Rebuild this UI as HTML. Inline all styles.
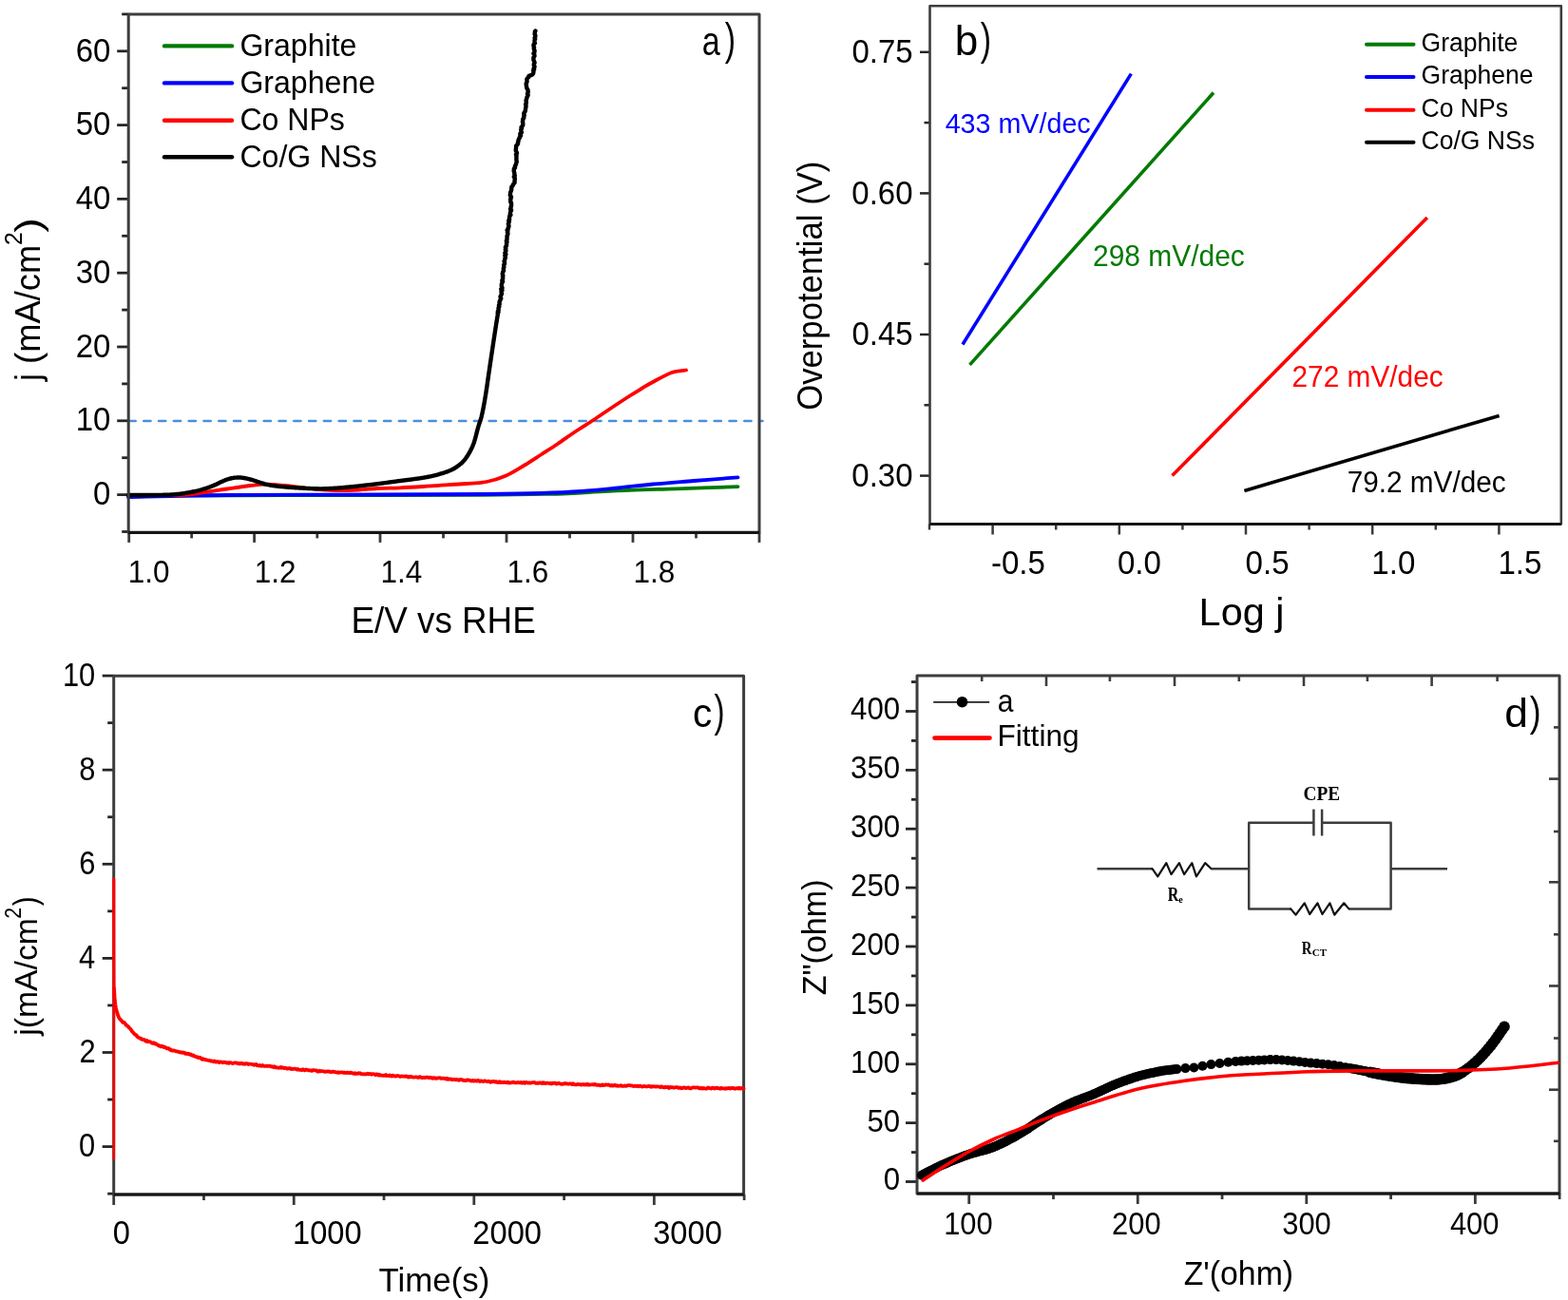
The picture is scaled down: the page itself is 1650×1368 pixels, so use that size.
<!DOCTYPE html>
<html><head><meta charset="utf-8"><title>Figure</title>
<style>html,body{margin:0;padding:0;background:#fff;}svg{display:block;}</style></head>
<body><svg width="1650" height="1368" viewBox="0 0 1650 1368">
<rect width="1650" height="1368" fill="#fff"/>
<line x1="128.20" y1="559.50" x2="135.20" y2="559.50" stroke="#262626" stroke-width="2.8" stroke-linecap="butt" />
<line x1="123.20" y1="520.60" x2="135.20" y2="520.60" stroke="#262626" stroke-width="2.8" stroke-linecap="butt" />
<line x1="128.20" y1="481.70" x2="135.20" y2="481.70" stroke="#262626" stroke-width="2.8" stroke-linecap="butt" />
<line x1="123.20" y1="442.80" x2="135.20" y2="442.80" stroke="#262626" stroke-width="2.8" stroke-linecap="butt" />
<line x1="128.20" y1="403.90" x2="135.20" y2="403.90" stroke="#262626" stroke-width="2.8" stroke-linecap="butt" />
<line x1="123.20" y1="365.00" x2="135.20" y2="365.00" stroke="#262626" stroke-width="2.8" stroke-linecap="butt" />
<line x1="128.20" y1="326.10" x2="135.20" y2="326.10" stroke="#262626" stroke-width="2.8" stroke-linecap="butt" />
<line x1="123.20" y1="287.20" x2="135.20" y2="287.20" stroke="#262626" stroke-width="2.8" stroke-linecap="butt" />
<line x1="128.20" y1="248.30" x2="135.20" y2="248.30" stroke="#262626" stroke-width="2.8" stroke-linecap="butt" />
<line x1="123.20" y1="209.40" x2="135.20" y2="209.40" stroke="#262626" stroke-width="2.8" stroke-linecap="butt" />
<line x1="128.20" y1="170.50" x2="135.20" y2="170.50" stroke="#262626" stroke-width="2.8" stroke-linecap="butt" />
<line x1="123.20" y1="131.60" x2="135.20" y2="131.60" stroke="#262626" stroke-width="2.8" stroke-linecap="butt" />
<line x1="128.20" y1="92.70" x2="135.20" y2="92.70" stroke="#262626" stroke-width="2.8" stroke-linecap="butt" />
<line x1="123.20" y1="53.80" x2="135.20" y2="53.80" stroke="#262626" stroke-width="2.8" stroke-linecap="butt" />
<line x1="128.20" y1="14.90" x2="135.20" y2="14.90" stroke="#262626" stroke-width="2.8" stroke-linecap="butt" />
<line x1="135.70" y1="560.40" x2="135.70" y2="570.90" stroke="#3a3a3a" stroke-width="2.8" stroke-linecap="butt" />
<line x1="201.65" y1="560.40" x2="201.65" y2="566.40" stroke="#3a3a3a" stroke-width="2.8" stroke-linecap="butt" />
<line x1="267.60" y1="560.40" x2="267.60" y2="570.90" stroke="#3a3a3a" stroke-width="2.8" stroke-linecap="butt" />
<line x1="333.80" y1="560.40" x2="333.80" y2="566.40" stroke="#3a3a3a" stroke-width="2.8" stroke-linecap="butt" />
<line x1="400.00" y1="560.40" x2="400.00" y2="570.90" stroke="#3a3a3a" stroke-width="2.8" stroke-linecap="butt" />
<line x1="466.50" y1="560.40" x2="466.50" y2="566.40" stroke="#3a3a3a" stroke-width="2.8" stroke-linecap="butt" />
<line x1="533.00" y1="560.40" x2="533.00" y2="570.90" stroke="#3a3a3a" stroke-width="2.8" stroke-linecap="butt" />
<line x1="599.50" y1="560.40" x2="599.50" y2="566.40" stroke="#3a3a3a" stroke-width="2.8" stroke-linecap="butt" />
<line x1="666.00" y1="560.40" x2="666.00" y2="570.90" stroke="#3a3a3a" stroke-width="2.8" stroke-linecap="butt" />
<line x1="732.50" y1="560.40" x2="732.50" y2="566.40" stroke="#3a3a3a" stroke-width="2.8" stroke-linecap="butt" />
<line x1="799.00" y1="560.40" x2="799.00" y2="570.90" stroke="#3a3a3a" stroke-width="2.8" stroke-linecap="butt" />
<line x1="135.50" y1="443.00" x2="802.50" y2="443.00" stroke="#4a8fdb" stroke-width="2.6" stroke-linecap="round" stroke-dasharray="7.2,8.6"/>
<path d="M135.00,521.60 C162.50,521.53 239.17,521.33 300.00,521.20 C360.83,521.07 453.33,521.03 500.00,520.80 C546.67,520.57 561.33,520.18 580.00,519.80 C598.67,519.42 598.33,519.17 612.00,518.50 C625.67,517.83 645.33,516.50 662.00,515.80 C678.67,515.10 692.92,514.90 712.00,514.30 C731.08,513.70 765.75,512.55 776.50,512.20" fill="none" stroke="#007a00" stroke-width="3.8" stroke-linejoin="round" stroke-linecap="round" />
<path d="M135.00,523.00 C152.33,522.67 194.83,521.42 239.00,521.00 C283.17,520.58 354.50,520.67 400.00,520.50 C445.50,520.33 483.67,520.25 512.00,520.00 C540.33,519.75 553.33,519.50 570.00,519.00 C586.67,518.50 598.67,517.92 612.00,517.00 C625.33,516.08 637.50,514.75 650.00,513.50 C662.50,512.25 673.67,510.75 687.00,509.50 C700.33,508.25 715.08,507.20 730.00,506.00 C744.92,504.80 768.75,502.92 776.50,502.30" fill="none" stroke="#0000ff" stroke-width="3.8" stroke-linejoin="round" stroke-linecap="round" />
<path d="M135.00,521.00 C144.27,521.00 177.30,521.47 190.60,521.00 C203.90,520.53 206.73,519.28 214.80,518.20 C222.87,517.12 230.92,515.70 239.00,514.50 C247.08,513.30 256.47,511.80 263.30,511.00 C270.13,510.20 273.93,509.70 280.00,509.70 C286.07,509.70 292.37,510.32 299.70,511.00 C307.03,511.68 315.95,513.00 324.00,513.80 C332.05,514.60 340.00,515.47 348.00,515.80 C356.00,516.13 363.88,516.10 372.00,515.80 C380.12,515.50 388.53,514.42 396.70,514.00 C404.87,513.58 412.95,513.63 421.00,513.30 C429.05,512.97 438.17,512.42 445.00,512.00 C451.83,511.58 454.50,511.30 462.00,510.80 C469.50,510.30 481.67,509.63 490.00,509.00 C498.33,508.37 505.00,508.37 512.00,507.00 C519.00,505.63 525.33,503.72 532.00,500.80 C538.67,497.88 545.67,493.30 552.00,489.50 C558.33,485.70 564.17,481.75 570.00,478.00 C575.83,474.25 581.17,470.92 587.00,467.00 C592.83,463.08 598.75,458.67 605.00,454.50 C611.25,450.33 618.17,446.17 624.50,442.00 C630.83,437.83 636.75,433.67 643.00,429.50 C649.25,425.33 656.67,420.42 662.00,417.00 C667.33,413.58 670.83,411.50 675.00,409.00 C679.17,406.50 681.67,404.83 687.00,402.00 C692.33,399.17 701.17,394.08 707.00,392.00 C712.83,389.92 719.50,389.92 722.00,389.50" fill="none" stroke="#ff0000" stroke-width="3.8" stroke-linejoin="round" stroke-linecap="round" />
<path d="M135.00,521.00 L135.53,521.00 L136.12,520.99 L136.77,520.99 L137.46,520.99 L138.20,520.99 L138.98,520.99 L139.81,520.99 L140.68,520.99 L141.59,520.99 L142.54,520.99 L143.52,520.99 L144.53,520.99 L145.57,520.99 L146.63,521.00 L147.72,521.00 L148.83,521.00 L149.97,521.00 L151.11,521.00 L152.28,521.00 L153.45,521.00 L154.64,520.99 L155.84,520.99 L157.03,520.99 L158.24,520.98 L159.44,520.98 L160.64,520.97 L161.84,520.96 L163.03,520.96 L164.21,520.94 L165.38,520.93 L166.54,520.92 L167.68,520.90 L168.80,520.89 L169.90,520.87 L170.98,520.85 L172.04,520.82 L173.06,520.80 L174.06,520.77 L175.02,520.74 L175.95,520.71 L176.84,520.68 L177.69,520.64 L178.50,520.60 L179.88,520.52 L181.21,520.44 L182.49,520.36 L183.72,520.26 L184.90,520.16 L186.05,520.06 L187.15,519.95 L188.21,519.84 L189.25,519.72 L190.25,519.60 L191.23,519.47 L192.18,519.34 L193.10,519.21 L194.01,519.07 L194.91,518.93 L195.79,518.78 L196.65,518.63 L197.52,518.48 L198.38,518.32 L199.23,518.16 L200.09,518.00 L200.95,517.84 L201.82,517.67 L202.70,517.50 L203.86,517.27 L204.99,517.04 L206.09,516.80 L207.17,516.55 L208.22,516.31 L209.24,516.05 L210.25,515.79 L211.25,515.52 L212.23,515.25 L213.20,514.97 L214.17,514.68 L215.13,514.38 L216.10,514.08 L217.06,513.76 L218.03,513.44 L219.01,513.10 L220.00,512.76 L221.00,512.40 L221.97,512.04 L222.94,511.66 L223.93,511.25 L224.93,510.82 L225.93,510.37 L226.94,509.91 L227.94,509.44 L228.94,508.97 L229.94,508.49 L230.93,508.02 L231.91,507.55 L232.88,507.10 L233.83,506.65 L234.77,506.23 L235.69,505.83 L236.58,505.45 L237.45,505.10 L238.29,504.78 L239.10,504.50 L240.32,504.11 L241.46,503.78 L242.55,503.49 L243.58,503.25 L244.57,503.05 L245.52,502.88 L246.46,502.75 L247.39,502.65 L248.32,502.58 L249.25,502.53 L250.21,502.51 L251.20,502.50 L252.19,502.52 L253.15,502.56 L254.08,502.64 L255.01,502.74 L255.93,502.87 L256.87,503.03 L257.83,503.22 L258.81,503.43 L259.85,503.66 L260.93,503.92 L262.08,504.20 L263.30,504.50 L264.11,504.71 L264.96,504.95 L265.83,505.21 L266.73,505.48 L267.65,505.78 L268.60,506.08 L269.56,506.40 L270.53,506.73 L271.52,507.06 L272.52,507.39 L273.52,507.72 L274.53,508.05 L275.54,508.37 L276.55,508.68 L277.56,508.98 L278.56,509.27 L279.55,509.53 L280.53,509.78 L281.50,510.00 L282.49,510.21 L283.46,510.41 L284.39,510.59 L285.31,510.75 L286.22,510.91 L287.12,511.05 L288.02,511.19 L288.92,511.31 L289.84,511.43 L290.78,511.54 L291.74,511.65 L292.74,511.76 L293.77,511.86 L294.84,511.97 L295.97,512.07 L297.15,512.18 L298.39,512.29 L299.70,512.40 L300.53,512.47 L301.39,512.54 L302.30,512.61 L303.23,512.69 L304.19,512.76 L305.18,512.83 L306.20,512.90 L307.23,512.98 L308.29,513.05 L309.36,513.12 L310.44,513.19 L311.54,513.26 L312.64,513.33 L313.75,513.40 L314.86,513.46 L315.97,513.53 L317.08,513.59 L318.18,513.65 L319.28,513.71 L320.36,513.77 L321.43,513.83 L322.49,513.88 L323.52,513.93 L324.53,513.98 L325.52,514.02 L326.48,514.06 L327.41,514.10 L328.31,514.14 L329.18,514.17 L330.00,514.20 L331.30,514.24 L332.50,514.28 L333.64,514.30 L334.70,514.32 L335.71,514.34 L336.67,514.35 L337.60,514.35 L338.49,514.35 L339.37,514.34 L340.24,514.32 L341.10,514.30 L341.98,514.27 L342.88,514.24 L343.81,514.20 L344.77,514.16 L345.79,514.11 L346.86,514.06 L348.00,514.00 L348.89,513.95 L349.81,513.90 L350.74,513.84 L351.70,513.78 L352.67,513.71 L353.65,513.65 L354.65,513.57 L355.66,513.50 L356.69,513.42 L357.72,513.33 L358.76,513.25 L359.81,513.16 L360.86,513.07 L361.92,512.98 L362.98,512.89 L364.04,512.79 L365.10,512.70 L366.16,512.60 L367.21,512.50 L368.27,512.40 L369.31,512.30 L370.35,512.20 L371.38,512.10 L372.40,512.00 L373.41,511.90 L374.43,511.80 L375.44,511.69 L376.46,511.58 L377.47,511.48 L378.48,511.37 L379.49,511.25 L380.51,511.14 L381.52,511.03 L382.53,510.91 L383.54,510.79 L384.56,510.67 L385.57,510.56 L386.58,510.44 L387.59,510.31 L388.60,510.19 L389.62,510.07 L390.63,509.95 L391.64,509.82 L392.65,509.70 L393.66,509.57 L394.68,509.45 L395.69,509.32 L396.70,509.20 L397.71,509.07 L398.71,508.95 L399.71,508.82 L400.70,508.70 L401.69,508.57 L402.68,508.45 L403.66,508.32 L404.64,508.19 L405.63,508.06 L406.61,507.94 L407.60,507.81 L408.59,507.67 L409.58,507.54 L410.58,507.41 L411.58,507.28 L412.59,507.14 L413.61,507.00 L414.63,506.87 L415.66,506.73 L416.71,506.58 L417.76,506.44 L418.83,506.30 L419.91,506.15 L421.00,506.00 L421.95,505.87 L422.92,505.74 L423.90,505.62 L424.90,505.49 L425.91,505.36 L426.94,505.24 L427.97,505.11 L429.01,504.98 L430.06,504.85 L431.11,504.72 L432.17,504.59 L433.24,504.46 L434.30,504.32 L435.36,504.19 L436.43,504.05 L437.49,503.91 L438.54,503.77 L439.59,503.62 L440.64,503.48 L441.67,503.33 L442.70,503.17 L443.71,503.02 L444.72,502.86 L445.71,502.69 L446.68,502.53 L447.64,502.36 L448.58,502.18 L449.50,502.00 L450.61,501.78 L451.71,501.55 L452.80,501.31 L453.89,501.07 L454.98,500.82 L456.05,500.57 L457.11,500.32 L458.16,500.06 L459.21,499.79 L460.23,499.53 L461.25,499.26 L462.25,498.98 L463.23,498.70 L464.20,498.42 L465.15,498.14 L466.08,497.85 L466.99,497.57 L467.89,497.28 L468.76,496.98 L469.60,496.69 L470.43,496.39 L471.23,496.10 L472.00,495.80 L473.21,495.31 L474.35,494.81 L475.43,494.30 L476.45,493.79 L477.41,493.27 L478.32,492.74 L479.19,492.21 L480.02,491.67 L480.81,491.13 L481.58,490.58 L482.33,490.02 L483.06,489.45 L483.78,488.88 L484.50,488.30 L485.37,487.56 L486.18,486.83 L486.94,486.09 L487.65,485.35 L488.31,484.60 L488.95,483.82 L489.57,483.03 L490.18,482.20 L490.78,481.34 L491.38,480.44 L492.00,479.50 L492.53,478.67 L493.05,477.83 L493.56,476.97 L494.07,476.09 L494.57,475.19 L495.07,474.27 L495.55,473.32 L496.03,472.34 L496.50,471.34 L496.97,470.30 L497.42,469.24 L497.86,468.14 L498.30,467.00 L498.61,466.14 L498.91,465.25 L499.21,464.31 L499.50,463.35 L499.79,462.36 L500.08,461.35 L500.36,460.33 L500.63,459.29 L500.91,458.25 L501.17,457.21 L501.44,456.17 L501.70,455.15 L501.96,454.14 L502.21,453.15 L502.46,452.19 L502.71,451.25 L502.96,450.36 L503.20,449.50 L503.53,448.40 L503.85,447.38 L504.15,446.43 L504.45,445.53 L504.74,444.67 L505.03,443.83 L505.31,442.98 L505.59,442.13 L505.87,441.24 L506.15,440.29 L506.43,439.29 L506.71,438.19 L507.00,437.00 L507.19,436.18 L507.38,435.33 L507.57,434.45 L507.76,433.56 L507.95,432.64 L508.14,431.71 L508.33,430.75 L508.52,429.78 L508.72,428.79 L508.91,427.78 L509.10,426.76 L509.29,425.72 L509.48,424.67 L509.67,423.60 L509.86,422.53 L510.05,421.44 L510.24,420.34 L510.42,419.24 L510.61,418.12 L510.80,417.00 L510.95,416.09 L511.10,415.17 L511.25,414.23 L511.40,413.28 L511.55,412.32 L511.69,411.35 L511.84,410.36 L511.99,409.37 L512.14,408.37 L512.29,407.36 L512.43,406.34 L512.58,405.32 L512.73,404.30 L512.88,403.27 L513.02,402.24 L513.17,401.21 L513.32,400.17 L513.47,399.14 L513.61,398.11 L513.76,397.08 L513.91,396.05 L514.06,395.03 L514.20,394.01 L514.35,393.00 L514.50,392.00 L514.65,391.00 L514.80,390.00 L514.94,389.00 L515.09,388.00 L515.24,387.00 L515.39,386.00 L515.53,385.00 L515.68,384.00 L515.83,383.00 L515.98,382.00 L516.12,381.00 L516.27,380.00 L516.42,379.00 L516.57,378.00 L516.71,377.00 L516.86,376.00 L517.01,375.00 L517.16,374.00 L517.31,373.00 L517.45,372.00 L517.60,371.00 L517.75,370.00 L517.90,369.00 L518.05,368.00 L518.20,367.00 L518.35,365.99 L518.51,364.96 L518.66,363.92 L518.82,362.86 L518.98,361.79 L519.14,360.72 L519.31,359.63 L519.47,358.55 L519.64,357.46 L519.80,356.38 L519.96,355.30 L520.13,354.22 L520.29,353.16 L520.45,352.10 L520.60,351.06 L520.76,350.04 L520.91,349.04 L521.06,348.06 L521.21,347.10 L521.35,346.17 L521.49,345.27 L521.63,344.40 L521.76,343.56 L521.88,342.76 L522.00,342.00 L522.24,340.51 L522.46,339.11 L522.67,337.80 L522.87,336.59 L523.06,335.47 L523.24,334.44 L523.40,333.49 L523.55,332.63 L523.68,331.85 L523.80,331.16 L523.91,330.54 L523.75,330.00 L523.63,329.31 L524.49,328.48 L523.85,327.54 L524.70,326.49 L524.68,325.35 L524.48,324.12 L525.35,322.81 L524.94,321.44 L525.75,320.02 L525.49,318.56 L525.76,317.06 L526.47,315.55 L527.25,314.02 L526.47,312.50 L526.75,311.42 L527.45,310.29 L528.03,309.13 L527.64,307.94 L527.52,306.72 L528.45,305.47 L527.28,304.21 L528.54,302.92 L527.86,301.62 L527.78,300.31 L527.87,299.00 L528.26,297.68 L529.09,296.36 L528.32,295.05 L529.00,293.75 L529.20,292.46 L528.95,291.19 L529.32,289.93 L528.76,288.70 L528.88,287.50 L529.23,286.19 L530.03,284.90 L529.82,283.63 L529.80,282.38 L530.31,281.14 L530.27,279.91 L530.19,278.68 L531.02,277.47 L531.03,276.25 L530.53,275.03 L531.13,273.82 L531.20,272.59 L531.83,271.36 L531.77,270.12 L531.29,268.87 L532.39,267.60 L531.33,266.31 L531.89,265.00 L532.48,263.80 L531.76,262.57 L532.35,261.31 L531.85,260.04 L532.85,258.75 L533.10,257.45 L532.96,256.14 L533.50,254.82 L532.84,253.50 L533.49,252.19 L533.47,250.88 L533.58,249.58 L533.53,248.29 L534.19,247.03 L534.46,245.78 L533.93,244.56 L534.33,243.37 L533.61,242.21 L534.65,241.08 L534.71,240.00 L535.40,238.52 L535.38,237.13 L534.86,235.80 L535.25,234.53 L535.89,233.30 L535.24,232.11 L536.10,230.94 L535.93,229.78 L536.09,228.63 L536.23,227.46 L537.42,226.28 L536.71,225.07 L537.02,223.81 L537.35,222.50 L538.10,221.30 L537.03,220.07 L537.56,218.80 L537.69,217.50 L538.12,216.18 L537.99,214.85 L538.00,213.52 L537.13,212.19 L537.27,210.87 L537.14,209.56 L537.84,208.28 L537.93,207.03 L536.81,205.82 L536.88,204.66 L537.02,203.55 L537.13,202.50 L537.74,200.94 L538.24,199.48 L538.22,198.12 L538.34,196.84 L539.43,195.62 L539.86,194.46 L540.61,193.33 L541.57,192.22 L541.54,191.12 L541.52,190.00 L541.78,188.63 L541.81,187.32 L540.79,186.07 L541.76,184.84 L541.38,183.64 L541.34,182.44 L541.15,181.23 L540.65,180.00 L540.90,178.78 L540.86,177.62 L542.07,176.47 L541.79,175.31 L542.31,174.12 L542.98,172.85 L543.29,171.49 L543.78,170.00 L543.44,168.91 L543.36,167.73 L543.51,166.48 L543.33,165.19 L543.57,163.85 L542.95,162.50 L544.00,161.15 L543.51,159.81 L542.77,158.52 L542.86,157.27 L543.00,156.09 L543.11,155.00 L543.04,153.51 L544.44,152.15 L545.13,150.88 L544.93,149.69 L545.52,148.53 L545.51,147.38 L546.03,146.22 L546.78,145.00 L547.00,143.80 L548.06,142.68 L547.36,141.58 L547.38,140.47 L548.88,139.30 L548.51,138.03 L548.22,136.61 L549.06,135.00 L548.52,133.98 L549.42,132.89 L550.25,131.75 L550.29,130.55 L550.27,129.30 L549.88,128.02 L550.25,126.72 L550.20,125.39 L551.27,124.06 L551.16,122.72 L551.73,121.39 L551.32,120.07 L551.40,118.77 L552.44,117.50 L552.90,116.24 L552.96,114.98 L553.14,113.70 L553.42,112.43 L553.57,111.15 L553.11,109.87 L553.77,108.59 L553.79,107.33 L553.56,106.07 L553.77,104.82 L554.31,103.58 L554.44,102.37 L555.18,101.17 L555.64,100.00 L554.97,98.63 L555.63,97.24 L555.62,95.84 L555.45,94.44 L554.47,93.07 L554.11,91.72 L553.95,90.41 L553.76,89.17 L553.65,87.99 L554.16,86.89 L554.52,85.89 L554.48,85.00 L554.40,83.05 L555.37,81.88 L556.47,81.02 L556.42,80.00 L558.09,79.32 L559.46,78.96 L560.31,78.44 L561.18,77.28 L561.47,75.00 L561.16,74.19 L562.11,73.28 L561.55,72.26 L562.26,71.16 L562.55,69.98 L561.77,68.73 L561.80,67.43 L562.58,66.08 L562.27,64.69 L561.49,63.28 L561.42,61.85 L561.45,60.42 L562.49,58.99 L562.35,57.58 L561.42,56.19 L562.37,54.84 L562.59,53.53 L562.16,52.29 L561.75,51.10 L562.07,50.00 L561.55,48.48 L561.48,46.95 L562.91,45.44 L562.56,43.94 L562.50,42.48 L563.18,41.06 L562.59,39.69 L563.31,38.38 L563.36,37.15 L562.60,36.01 L562.75,34.96 L562.89,34.02 L562.88,33.19 L563.42,32.50" fill="none" stroke="#000" stroke-width="4.4" stroke-linejoin="round" stroke-linecap="round" />
<rect x="135.2" y="15.0" width="663.8" height="545.4" fill="none" stroke="#3d3d3d" stroke-width="3.0" stroke-linejoin="round"/>
<line x1="135.20" y1="560.40" x2="799.00" y2="560.40" stroke="#161616" stroke-width="3.2" stroke-linecap="butt" />
<line x1="173.00" y1="48.40" x2="244.00" y2="48.40" stroke="#007a00" stroke-width="4.4" stroke-linecap="round" />
<line x1="173.00" y1="87.40" x2="244.00" y2="87.40" stroke="#0000ff" stroke-width="4.4" stroke-linecap="round" />
<line x1="173.00" y1="126.80" x2="244.00" y2="126.80" stroke="#ff0000" stroke-width="4.4" stroke-linecap="round" />
<line x1="173.00" y1="165.30" x2="244.00" y2="165.30" stroke="#000" stroke-width="4.4" stroke-linecap="round" />
<text transform="translate(252.40,59.20) scale(0.9780,1)" font-family='"Liberation Sans", Arial, sans-serif' font-weight="normal" font-size="32.80" fill="#000">Graphite</text>
<text transform="translate(252.40,98.10) scale(0.9780,1)" font-family='"Liberation Sans", Arial, sans-serif' font-weight="normal" font-size="32.80" fill="#000">Graphene</text>
<text transform="translate(252.40,137.00) scale(0.9780,1)" font-family='"Liberation Sans", Arial, sans-serif' font-weight="normal" font-size="32.80" fill="#000">Co NPs</text>
<text transform="translate(252.40,175.90) scale(0.9780,1)" font-family='"Liberation Sans", Arial, sans-serif' font-weight="normal" font-size="32.80" fill="#000">Co/G NSs</text>
<text transform="translate(79.65,64.60) scale(0.9578,1)" font-family='"Liberation Sans", Arial, sans-serif' font-weight="normal" font-size="34.43" fill="#000">60</text>
<text transform="translate(97.95,531.10) scale(0.9578,1)" font-family='"Liberation Sans", Arial, sans-serif' font-weight="normal" font-size="34.43" fill="#000">0</text>
<text transform="translate(79.65,453.30) scale(0.9578,1)" font-family='"Liberation Sans", Arial, sans-serif' font-weight="normal" font-size="34.43" fill="#000">10</text>
<text transform="translate(79.65,375.50) scale(0.9578,1)" font-family='"Liberation Sans", Arial, sans-serif' font-weight="normal" font-size="34.43" fill="#000">20</text>
<text transform="translate(79.65,297.70) scale(0.9578,1)" font-family='"Liberation Sans", Arial, sans-serif' font-weight="normal" font-size="34.43" fill="#000">30</text>
<text transform="translate(79.65,219.90) scale(0.9578,1)" font-family='"Liberation Sans", Arial, sans-serif' font-weight="normal" font-size="34.43" fill="#000">40</text>
<text transform="translate(79.65,142.10) scale(0.9578,1)" font-family='"Liberation Sans", Arial, sans-serif' font-weight="normal" font-size="34.43" fill="#000">50</text>
<text transform="translate(134.64,612.70) scale(0.9324,1)" font-family='"Liberation Sans", Arial, sans-serif' font-weight="normal" font-size="33.77" fill="#000">1.0</text>
<text transform="translate(267.72,612.70) scale(0.9324,1)" font-family='"Liberation Sans", Arial, sans-serif' font-weight="normal" font-size="33.77" fill="#000">1.2</text>
<text transform="translate(400.41,612.70) scale(0.9324,1)" font-family='"Liberation Sans", Arial, sans-serif' font-weight="normal" font-size="33.77" fill="#000">1.4</text>
<text transform="translate(533.57,612.70) scale(0.9324,1)" font-family='"Liberation Sans", Arial, sans-serif' font-weight="normal" font-size="33.77" fill="#000">1.6</text>
<text transform="translate(666.57,612.70) scale(0.9324,1)" font-family='"Liberation Sans", Arial, sans-serif' font-weight="normal" font-size="33.77" fill="#000">1.8</text>
<text transform="translate(369.45,665.60) scale(0.9444,1)" font-family='"Liberation Sans", Arial, sans-serif' font-weight="normal" font-size="38.99" fill="#000">E/V vs RHE</text>
<text transform="translate(42.40,401.09) rotate(-90) scale(0.9619,1)" font-family='"Liberation Sans", Arial, sans-serif' font-weight="normal" font-size="37.78" fill="#000">j (mA/cm</text>
<text transform="translate(23.40,258.04) rotate(-90) scale(0.9878,1)" font-family='"Liberation Sans", Arial, sans-serif' font-weight="normal" font-size="25.14" fill="#000">2</text>
<text transform="translate(43.00,244.63) rotate(-90) scale(1.1945,1)" font-family='"Liberation Sans", Arial, sans-serif' font-weight="normal" font-size="39.17" fill="#000">)</text>
<text transform="translate(738.63,57.70) scale(0.8130,1)" font-family='"Liberation Sans", Arial, sans-serif' font-weight="normal" font-size="42.04" fill="#000">a</text>
<text transform="translate(762.83,56.83) scale(0.7454,1)" font-family='"Liberation Sans", Arial, sans-serif' font-weight="normal" font-size="45.56" fill="#000">)</text>
<line x1="968.00" y1="500.60" x2="978.50" y2="500.60" stroke="#262626" stroke-width="2.5" stroke-linecap="butt" />
<line x1="972.50" y1="426.30" x2="978.50" y2="426.30" stroke="#262626" stroke-width="2.5" stroke-linecap="butt" />
<line x1="968.00" y1="352.00" x2="978.50" y2="352.00" stroke="#262626" stroke-width="2.5" stroke-linecap="butt" />
<line x1="972.50" y1="277.70" x2="978.50" y2="277.70" stroke="#262626" stroke-width="2.5" stroke-linecap="butt" />
<line x1="968.00" y1="203.40" x2="978.50" y2="203.40" stroke="#262626" stroke-width="2.5" stroke-linecap="butt" />
<line x1="972.50" y1="129.10" x2="978.50" y2="129.10" stroke="#262626" stroke-width="2.5" stroke-linecap="butt" />
<line x1="968.00" y1="54.80" x2="978.50" y2="54.80" stroke="#262626" stroke-width="2.5" stroke-linecap="butt" />
<line x1="978.00" y1="551.50" x2="978.00" y2="557.50" stroke="#3a3a3a" stroke-width="2.5" stroke-linecap="butt" />
<line x1="1044.60" y1="551.50" x2="1044.60" y2="562.50" stroke="#3a3a3a" stroke-width="2.5" stroke-linecap="butt" />
<line x1="1111.20" y1="551.50" x2="1111.20" y2="557.50" stroke="#3a3a3a" stroke-width="2.5" stroke-linecap="butt" />
<line x1="1177.80" y1="551.50" x2="1177.80" y2="562.50" stroke="#3a3a3a" stroke-width="2.5" stroke-linecap="butt" />
<line x1="1244.40" y1="551.50" x2="1244.40" y2="557.50" stroke="#3a3a3a" stroke-width="2.5" stroke-linecap="butt" />
<line x1="1311.00" y1="551.50" x2="1311.00" y2="562.50" stroke="#3a3a3a" stroke-width="2.5" stroke-linecap="butt" />
<line x1="1377.60" y1="551.50" x2="1377.60" y2="557.50" stroke="#3a3a3a" stroke-width="2.5" stroke-linecap="butt" />
<line x1="1444.20" y1="551.50" x2="1444.20" y2="562.50" stroke="#3a3a3a" stroke-width="2.5" stroke-linecap="butt" />
<line x1="1510.80" y1="551.50" x2="1510.80" y2="557.50" stroke="#3a3a3a" stroke-width="2.5" stroke-linecap="butt" />
<line x1="1577.40" y1="551.50" x2="1577.40" y2="562.50" stroke="#3a3a3a" stroke-width="2.5" stroke-linecap="butt" />
<line x1="1013.00" y1="362.50" x2="1190.30" y2="77.60" stroke="#0000ff" stroke-width="3.6" stroke-linecap="butt" />
<line x1="1020.50" y1="383.90" x2="1277.00" y2="97.50" stroke="#007a00" stroke-width="3.6" stroke-linecap="butt" />
<line x1="1233.50" y1="500.60" x2="1501.80" y2="229.00" stroke="#ff0000" stroke-width="3.6" stroke-linecap="butt" />
<line x1="1309.40" y1="516.40" x2="1577.60" y2="437.40" stroke="#000" stroke-width="3.6" stroke-linecap="butt" />
<rect x="978.5" y="6.2" width="664.3" height="545.3" fill="none" stroke="#3d3d3d" stroke-width="2.6" stroke-linejoin="round"/>
<line x1="978.50" y1="551.50" x2="1642.80" y2="551.50" stroke="#161616" stroke-width="2.8" stroke-linecap="butt" />
<line x1="1438.00" y1="46.80" x2="1487.50" y2="46.80" stroke="#007a00" stroke-width="4.0" stroke-linecap="round" />
<line x1="1438.00" y1="81.00" x2="1487.50" y2="81.00" stroke="#0000ff" stroke-width="4.0" stroke-linecap="round" />
<line x1="1438.00" y1="115.70" x2="1487.50" y2="115.70" stroke="#ff0000" stroke-width="4.0" stroke-linecap="round" />
<line x1="1438.00" y1="149.80" x2="1487.50" y2="149.80" stroke="#000" stroke-width="4.0" stroke-linecap="round" />
<text transform="translate(1495.57,53.60) scale(0.9650,1)" font-family='"Liberation Sans", Arial, sans-serif' font-weight="normal" font-size="27.50" fill="#000">Graphite</text>
<text transform="translate(1495.57,88.10) scale(0.9650,1)" font-family='"Liberation Sans", Arial, sans-serif' font-weight="normal" font-size="27.50" fill="#000">Graphene</text>
<text transform="translate(1495.57,122.70) scale(0.9650,1)" font-family='"Liberation Sans", Arial, sans-serif' font-weight="normal" font-size="27.50" fill="#000">Co NPs</text>
<text transform="translate(1495.57,157.20) scale(0.9650,1)" font-family='"Liberation Sans", Arial, sans-serif' font-weight="normal" font-size="27.50" fill="#000">Co/G NSs</text>
<text transform="translate(994.63,139.70) scale(0.9565,1)" font-family='"Liberation Sans", Arial, sans-serif' font-weight="normal" font-size="30.00" fill="#0000ff">433 mV/dec</text>
<text transform="translate(1150.00,279.70) scale(0.9621,1)" font-family='"Liberation Sans", Arial, sans-serif' font-weight="normal" font-size="31.14" fill="#007a00">298 mV/dec</text>
<text transform="translate(1359.51,407.30) scale(0.9280,1)" font-family='"Liberation Sans", Arial, sans-serif' font-weight="normal" font-size="32.14" fill="#ff0000">272 mV/dec</text>
<text transform="translate(1417.71,518.20) scale(0.9636,1)" font-family='"Liberation Sans", Arial, sans-serif' font-weight="normal" font-size="30.87" fill="#000">79.2 mV/dec</text>
<text transform="translate(896.48,66.00) scale(0.9538,1)" font-family='"Liberation Sans", Arial, sans-serif' font-weight="normal" font-size="34.57" fill="#000">0.75</text>
<text transform="translate(896.32,214.70) scale(0.9538,1)" font-family='"Liberation Sans", Arial, sans-serif' font-weight="normal" font-size="34.57" fill="#000">0.60</text>
<text transform="translate(896.48,363.30) scale(0.9538,1)" font-family='"Liberation Sans", Arial, sans-serif' font-weight="normal" font-size="34.57" fill="#000">0.45</text>
<text transform="translate(896.32,511.90) scale(0.9538,1)" font-family='"Liberation Sans", Arial, sans-serif' font-weight="normal" font-size="34.57" fill="#000">0.30</text>
<text transform="translate(1310.58,604.00) scale(0.9601,1)" font-family='"Liberation Sans", Arial, sans-serif' font-weight="normal" font-size="34.43" fill="#000">0.5</text>
<text transform="translate(1042.89,604.00) scale(0.9601,1)" font-family='"Liberation Sans", Arial, sans-serif' font-weight="normal" font-size="34.43" fill="#000">-0.5</text>
<text transform="translate(1175.95,604.00) scale(0.9601,1)" font-family='"Liberation Sans", Arial, sans-serif' font-weight="normal" font-size="34.43" fill="#000">0.0</text>
<text transform="translate(1443.37,604.00) scale(0.9601,1)" font-family='"Liberation Sans", Arial, sans-serif' font-weight="normal" font-size="34.43" fill="#000">1.0</text>
<text transform="translate(1576.45,604.00) scale(0.9601,1)" font-family='"Liberation Sans", Arial, sans-serif' font-weight="normal" font-size="34.43" fill="#000">1.5</text>
<text transform="translate(1261.59,657.90) scale(1.0067,1)" font-family='"Liberation Sans", Arial, sans-serif' font-weight="normal" font-size="41.16" fill="#000">Log j</text>
<text transform="translate(865.00,431.86) rotate(-90) scale(0.9345,1)" font-family='"Liberation Sans", Arial, sans-serif' font-weight="normal" font-size="37.14" fill="#000">Overpotential (V)</text>
<text transform="translate(1004.84,57.80) scale(1.0031,1)" font-family='"Liberation Sans", Arial, sans-serif' font-weight="normal" font-size="43.86" fill="#000">b</text>
<text transform="translate(1031.63,56.75) scale(0.7472,1)" font-family='"Liberation Sans", Arial, sans-serif' font-weight="normal" font-size="45.45" fill="#000">)</text>
<line x1="113.20" y1="1256.15" x2="119.70" y2="1256.15" stroke="#262626" stroke-width="2.8" stroke-linecap="butt" />
<line x1="107.70" y1="1206.60" x2="119.70" y2="1206.60" stroke="#262626" stroke-width="2.8" stroke-linecap="butt" />
<line x1="113.20" y1="1157.05" x2="119.70" y2="1157.05" stroke="#262626" stroke-width="2.8" stroke-linecap="butt" />
<line x1="107.70" y1="1107.50" x2="119.70" y2="1107.50" stroke="#262626" stroke-width="2.8" stroke-linecap="butt" />
<line x1="113.20" y1="1057.95" x2="119.70" y2="1057.95" stroke="#262626" stroke-width="2.8" stroke-linecap="butt" />
<line x1="107.70" y1="1008.40" x2="119.70" y2="1008.40" stroke="#262626" stroke-width="2.8" stroke-linecap="butt" />
<line x1="113.20" y1="958.85" x2="119.70" y2="958.85" stroke="#262626" stroke-width="2.8" stroke-linecap="butt" />
<line x1="107.70" y1="909.30" x2="119.70" y2="909.30" stroke="#262626" stroke-width="2.8" stroke-linecap="butt" />
<line x1="113.20" y1="859.75" x2="119.70" y2="859.75" stroke="#262626" stroke-width="2.8" stroke-linecap="butt" />
<line x1="107.70" y1="810.20" x2="119.70" y2="810.20" stroke="#262626" stroke-width="2.8" stroke-linecap="butt" />
<line x1="113.20" y1="760.65" x2="119.70" y2="760.65" stroke="#262626" stroke-width="2.8" stroke-linecap="butt" />
<line x1="107.70" y1="711.10" x2="119.70" y2="711.10" stroke="#262626" stroke-width="2.8" stroke-linecap="butt" />
<line x1="119.70" y1="1257.00" x2="119.70" y2="1268.00" stroke="#3a3a3a" stroke-width="2.8" stroke-linecap="butt" />
<line x1="214.47" y1="1257.00" x2="214.47" y2="1263.00" stroke="#3a3a3a" stroke-width="2.8" stroke-linecap="butt" />
<line x1="309.25" y1="1257.00" x2="309.25" y2="1268.00" stroke="#3a3a3a" stroke-width="2.8" stroke-linecap="butt" />
<line x1="404.02" y1="1257.00" x2="404.02" y2="1263.00" stroke="#3a3a3a" stroke-width="2.8" stroke-linecap="butt" />
<line x1="498.80" y1="1257.00" x2="498.80" y2="1268.00" stroke="#3a3a3a" stroke-width="2.8" stroke-linecap="butt" />
<line x1="593.58" y1="1257.00" x2="593.58" y2="1263.00" stroke="#3a3a3a" stroke-width="2.8" stroke-linecap="butt" />
<line x1="688.35" y1="1257.00" x2="688.35" y2="1268.00" stroke="#3a3a3a" stroke-width="2.8" stroke-linecap="butt" />
<line x1="783.12" y1="1257.00" x2="783.12" y2="1263.00" stroke="#3a3a3a" stroke-width="2.8" stroke-linecap="butt" />
<rect x="119.7" y="711.2" width="662.9" height="545.8" fill="none" stroke="#3d3d3d" stroke-width="3" stroke-linejoin="round"/>
<line x1="119.70" y1="1257.00" x2="782.60" y2="1257.00" stroke="#161616" stroke-width="3.2" stroke-linecap="butt" />
<line x1="119.80" y1="1220.60" x2="119.80" y2="924.70" stroke="#ff0000" stroke-width="2.6" stroke-linecap="butt" />
<path d="M119.80,924.70 L119.90,1000.00 L120.10,1040.40" fill="none" stroke="#ff0000" stroke-width="2.8" stroke-linejoin="round" stroke-linecap="round" />
<path d="M120.00,1040.09 L120.05,1041.04 L120.09,1041.54 L120.14,1042.64 L120.20,1043.58 L120.25,1043.91 L120.32,1044.91 L120.39,1047.03 L120.46,1047.50 L120.54,1048.67 L120.63,1050.80 L120.73,1051.38 L120.83,1053.03 L120.94,1053.77 L121.07,1055.11 L121.20,1055.61 L121.34,1057.22 L121.50,1058.44 L121.71,1059.19 L121.93,1060.58 L122.15,1061.60 L122.38,1061.95 L122.63,1063.83 L122.89,1064.65 L123.18,1065.29 L123.48,1065.94 L123.82,1067.88 L124.18,1068.33 L124.58,1069.53 L125.02,1070.60 L125.50,1071.26 L126.06,1072.39 L126.67,1072.57 L127.32,1073.82 L128.01,1074.12 L128.73,1075.40 L129.49,1076.02 L130.27,1075.76 L131.08,1076.49 L131.91,1077.29 L132.76,1078.93 L133.62,1079.08 L134.50,1080.15 L135.13,1080.40 L135.76,1081.32 L136.40,1081.87 L137.05,1082.55 L137.71,1083.58 L138.38,1084.34 L139.06,1085.49 L139.75,1085.99 L140.46,1087.05 L141.18,1087.73 L141.92,1088.64 L142.67,1088.99 L143.44,1089.09 L144.22,1090.61 L145.03,1091.38 L145.85,1091.92 L146.70,1092.08 L147.52,1092.75 L148.37,1092.62 L149.24,1093.80 L150.14,1093.90 L151.05,1093.95 L151.98,1094.05 L152.93,1095.36 L153.88,1095.86 L154.85,1095.11 L155.82,1096.28 L156.80,1096.13 L157.79,1096.13 L158.77,1096.61 L159.75,1097.49 L160.72,1097.93 L161.69,1097.27 L162.65,1098.29 L163.60,1097.95 L164.54,1099.12 L165.48,1099.03 L166.43,1100.06 L167.37,1100.55 L168.31,1100.36 L169.26,1101.32 L170.20,1100.87 L171.15,1100.97 L172.09,1101.97 L173.04,1101.66 L173.98,1102.22 L174.93,1102.83 L175.87,1103.42 L176.82,1103.22 L177.77,1103.42 L178.71,1104.73 L179.66,1104.38 L180.60,1105.45 L181.59,1105.67 L182.55,1105.32 L183.49,1105.67 L184.42,1105.97 L185.34,1106.34 L186.26,1106.49 L187.18,1106.64 L188.11,1106.91 L189.05,1107.50 L190.00,1107.18 L190.98,1107.30 L191.98,1107.86 L193.02,1107.52 L194.10,1107.85 L195.22,1108.94 L196.38,1108.69 L197.60,1109.06 L198.42,1108.65 L199.24,1109.39 L200.08,1109.85 L200.92,1109.46 L201.77,1110.46 L202.63,1110.79 L203.50,1110.41 L204.38,1111.41 L205.27,1111.54 L206.17,1112.13 L207.09,1112.07 L208.03,1112.83 L208.97,1113.20 L209.94,1112.68 L210.92,1113.06 L211.92,1114.13 L212.93,1114.80 L213.97,1114.26 L215.02,1114.82 L216.09,1115.28 L217.19,1115.24 L218.30,1115.57 L219.44,1115.78 L220.60,1116.09 L221.79,1116.60 L223.00,1116.46 L223.85,1116.69 L224.72,1117.30 L225.61,1116.53 L226.52,1117.30 L227.45,1117.61 L228.40,1117.21 L229.37,1117.20 L230.35,1118.00 L231.34,1117.41 L232.35,1117.44 L233.37,1117.83 L234.40,1118.22 L235.44,1117.58 L236.49,1117.92 L237.55,1118.01 L238.61,1118.68 L239.68,1118.27 L240.75,1118.84 L241.83,1118.08 L242.90,1118.34 L243.98,1118.78 L245.05,1119.12 L246.12,1118.66 L247.19,1118.44 L248.26,1118.38 L249.32,1118.93 L250.37,1118.58 L251.42,1119.38 L252.46,1119.48 L253.49,1118.75 L254.50,1118.93 L255.50,1119.63 L256.49,1119.50 L257.47,1119.76 L258.43,1119.28 L259.37,1119.10 L260.30,1119.37 L261.20,1120.05 L262.36,1119.53 L263.48,1119.73 L264.57,1119.93 L265.64,1120.04 L266.68,1120.13 L267.70,1120.86 L268.70,1120.05 L269.68,1119.97 L270.65,1121.21 L271.61,1121.24 L272.56,1121.48 L273.50,1120.93 L274.44,1121.66 L275.38,1121.74 L276.31,1121.01 L277.25,1121.75 L278.20,1121.97 L279.16,1121.88 L280.13,1121.82 L281.11,1121.66 L282.11,1121.84 L283.12,1121.82 L284.16,1121.75 L285.23,1122.49 L286.32,1122.25 L287.44,1123.00 L288.59,1122.20 L289.78,1123.36 L291.00,1123.23 L291.87,1123.60 L292.74,1123.65 L293.64,1123.75 L294.54,1123.45 L295.46,1122.87 L296.39,1123.84 L297.32,1123.25 L298.27,1123.50 L299.23,1124.03 L300.20,1123.97 L301.18,1123.93 L302.17,1124.66 L303.16,1124.37 L304.17,1124.15 L305.18,1124.14 L306.19,1124.97 L307.22,1124.61 L308.24,1125.08 L309.28,1124.67 L310.31,1124.58 L311.36,1125.09 L312.40,1125.53 L313.45,1124.86 L314.50,1125.70 L315.55,1125.96 L316.61,1125.92 L317.67,1126.04 L318.72,1125.16 L319.78,1126.00 L320.84,1126.38 L321.89,1125.50 L322.94,1125.86 L324.00,1125.95 L325.05,1126.35 L326.09,1126.32 L327.14,1126.47 L328.18,1126.92 L329.21,1126.08 L330.24,1126.22 L331.27,1126.39 L332.29,1126.47 L333.30,1126.48 L334.31,1127.65 L335.32,1127.58 L336.33,1126.73 L337.34,1127.30 L338.35,1127.14 L339.36,1127.21 L340.37,1127.32 L341.38,1127.74 L342.40,1127.73 L343.41,1127.52 L344.42,1127.38 L345.43,1127.61 L346.44,1127.42 L347.46,1128.00 L348.47,1128.25 L349.48,1127.90 L350.49,1127.60 L351.51,1127.77 L352.52,1128.06 L353.53,1128.39 L354.54,1128.66 L355.56,1128.23 L356.57,1128.79 L357.58,1128.63 L358.60,1128.45 L359.61,1128.43 L360.62,1128.63 L361.63,1128.94 L362.65,1128.65 L363.66,1129.03 L364.67,1128.81 L365.68,1128.60 L366.70,1129.01 L367.71,1129.26 L368.72,1128.56 L369.73,1129.04 L370.74,1129.10 L371.76,1129.71 L372.77,1129.84 L373.78,1129.22 L374.79,1129.91 L375.80,1129.85 L376.81,1129.28 L377.82,1129.59 L378.83,1129.24 L379.84,1130.14 L380.85,1130.03 L381.86,1130.36 L382.87,1130.32 L383.88,1130.24 L384.89,1130.39 L385.90,1130.25 L386.91,1129.77 L387.92,1130.43 L388.93,1129.80 L389.94,1130.04 L390.95,1130.86 L391.96,1130.06 L392.97,1130.19 L393.98,1130.27 L394.99,1131.28 L396.00,1130.51 L397.01,1130.40 L398.02,1131.45 L399.02,1130.66 L400.03,1131.60 L401.04,1131.47 L402.05,1131.73 L403.06,1131.94 L404.07,1131.57 L405.08,1131.90 L406.09,1131.05 L407.10,1132.00 L408.11,1131.76 L409.12,1132.08 L410.13,1131.41 L411.13,1132.25 L412.14,1132.54 L413.15,1131.56 L414.16,1131.94 L415.17,1132.29 L416.18,1132.67 L417.19,1132.03 L418.20,1132.02 L419.21,1132.16 L420.23,1132.66 L421.26,1132.88 L422.29,1132.51 L423.33,1132.54 L424.37,1132.63 L425.41,1132.63 L426.46,1132.77 L427.51,1132.42 L428.57,1132.97 L429.63,1133.60 L430.68,1132.98 L431.74,1133.43 L432.80,1132.78 L433.86,1133.47 L434.92,1133.60 L435.98,1133.55 L437.04,1133.42 L438.09,1133.43 L439.14,1133.67 L440.19,1134.03 L441.24,1133.18 L442.28,1133.17 L443.32,1134.00 L444.35,1134.25 L445.37,1133.82 L446.39,1133.78 L447.41,1134.16 L448.41,1133.57 L449.41,1133.72 L450.40,1133.69 L451.38,1134.20 L452.35,1133.93 L453.32,1133.88 L454.27,1134.48 L455.21,1134.84 L456.14,1134.10 L457.06,1134.64 L457.96,1134.34 L458.86,1134.92 L459.73,1134.65 L460.60,1134.32 L461.82,1134.34 L463.01,1134.18 L464.16,1134.80 L465.28,1134.75 L466.37,1134.57 L467.43,1134.87 L468.46,1134.90 L469.48,1135.52 L470.47,1134.83 L471.45,1135.92 L472.41,1135.38 L473.37,1135.59 L474.31,1135.51 L475.25,1136.02 L476.18,1136.08 L477.11,1135.83 L478.04,1135.81 L478.98,1136.17 L479.92,1136.41 L480.88,1135.93 L481.84,1136.40 L482.82,1136.75 L483.82,1136.23 L484.83,1136.01 L485.87,1136.09 L486.94,1136.74 L488.03,1136.77 L489.15,1137.18 L490.30,1137.12 L491.20,1136.45 L492.11,1136.44 L493.03,1136.58 L493.96,1136.55 L494.90,1137.23 L495.86,1137.48 L496.82,1137.58 L497.78,1136.87 L498.76,1137.66 L499.75,1137.06 L500.74,1137.25 L501.73,1137.68 L502.74,1136.97 L503.75,1137.04 L504.76,1137.99 L505.78,1137.40 L506.81,1137.54 L507.84,1137.87 L508.87,1138.04 L509.90,1137.30 L510.94,1137.75 L511.98,1137.93 L513.02,1138.05 L514.06,1137.77 L515.10,1138.28 L516.15,1138.78 L517.19,1138.16 L518.23,1138.39 L519.27,1137.94 L520.31,1138.17 L521.35,1138.69 L522.38,1138.08 L523.41,1139.05 L524.44,1139.12 L525.46,1138.19 L526.48,1139.25 L527.49,1138.61 L528.50,1139.13 L529.50,1139.15 L530.51,1138.63 L531.50,1139.12 L532.50,1139.12 L533.50,1139.33 L534.49,1138.71 L535.48,1139.32 L536.47,1139.60 L537.46,1139.27 L538.45,1139.13 L539.44,1138.64 L540.42,1139.12 L541.41,1138.97 L542.40,1139.43 L543.39,1139.40 L544.37,1139.28 L545.36,1138.83 L546.35,1139.40 L547.34,1139.40 L548.34,1138.87 L549.33,1139.74 L550.33,1139.47 L551.32,1138.85 L552.33,1139.84 L553.33,1138.90 L554.33,1139.15 L555.34,1139.63 L556.35,1139.50 L557.37,1139.46 L558.39,1139.59 L559.41,1139.38 L560.44,1139.23 L561.47,1139.09 L562.51,1138.98 L563.55,1139.78 L564.59,1139.85 L565.64,1139.62 L566.70,1139.89 L567.65,1139.46 L568.60,1139.37 L569.54,1139.54 L570.48,1140.15 L571.41,1139.19 L572.34,1139.77 L573.26,1139.49 L574.19,1140.14 L575.11,1139.67 L576.02,1139.68 L576.94,1139.79 L577.86,1139.99 L578.78,1140.30 L579.70,1139.82 L580.62,1140.45 L581.55,1139.60 L582.48,1139.82 L583.41,1139.65 L584.35,1139.69 L585.30,1140.53 L586.25,1140.50 L587.21,1139.88 L588.18,1139.92 L589.15,1140.23 L590.14,1140.65 L591.13,1140.77 L592.14,1140.73 L593.16,1140.58 L594.19,1140.08 L595.23,1140.42 L596.28,1140.21 L597.35,1140.65 L598.44,1140.73 L599.54,1140.33 L600.66,1140.43 L601.79,1141.10 L602.95,1140.24 L604.12,1141.20 L605.31,1141.35 L606.52,1141.46 L607.75,1140.82 L609.00,1141.06 L609.85,1141.13 L610.72,1141.22 L611.60,1141.65 L612.49,1141.33 L613.40,1140.90 L614.33,1141.60 L615.26,1141.18 L616.21,1141.35 L617.17,1141.53 L618.15,1140.69 L619.13,1141.64 L620.12,1141.54 L621.13,1141.37 L622.14,1141.44 L623.17,1141.39 L624.20,1141.10 L625.24,1141.54 L626.29,1140.98 L627.34,1141.57 L628.40,1141.78 L629.47,1141.57 L630.54,1141.75 L631.62,1142.25 L632.70,1142.20 L633.78,1141.33 L634.87,1142.15 L635.96,1141.98 L637.06,1141.32 L638.15,1141.73 L639.25,1141.61 L640.34,1141.46 L641.44,1142.04 L642.54,1142.55 L643.64,1141.85 L644.73,1142.54 L645.83,1142.37 L646.92,1141.73 L648.01,1142.63 L649.09,1142.35 L650.17,1142.78 L651.25,1142.56 L652.32,1142.62 L653.39,1142.18 L654.45,1142.77 L655.50,1142.95 L656.55,1142.90 L657.59,1142.42 L658.62,1142.84 L659.65,1142.55 L660.66,1142.13 L661.67,1142.08 L662.66,1142.15 L663.65,1142.33 L664.62,1142.32 L665.58,1142.75 L666.53,1143.03 L667.47,1142.86 L668.39,1142.76 L669.30,1143.06 L670.20,1142.68 L671.08,1142.90 L671.95,1143.28 L672.80,1142.88 L674.05,1142.66 L675.25,1143.57 L676.43,1143.40 L677.57,1143.02 L678.68,1143.07 L679.76,1143.30 L680.82,1143.43 L681.85,1143.03 L682.85,1142.81 L683.84,1143.10 L684.80,1143.83 L685.75,1143.11 L686.68,1143.54 L687.60,1143.26 L688.50,1143.33 L689.40,1143.32 L690.28,1143.65 L691.16,1143.41 L692.04,1143.28 L692.91,1143.43 L693.78,1143.54 L694.65,1143.97 L695.53,1143.49 L696.41,1143.49 L697.30,1144.04 L698.19,1144.04 L699.10,1144.43 L700.01,1143.69 L700.95,1144.15 L701.89,1144.18 L702.86,1143.77 L703.85,1144.94 L704.85,1144.08 L705.88,1143.96 L706.94,1144.45 L708.02,1144.12 L709.14,1144.70 L710.28,1144.40 L711.46,1144.16 L712.67,1144.11 L713.91,1144.95 L715.20,1144.43 L716.03,1145.06 L716.89,1144.69 L717.77,1145.27 L718.67,1144.53 L719.60,1144.48 L720.55,1144.52 L721.52,1145.19 L722.51,1144.98 L723.51,1144.65 L724.54,1144.37 L725.58,1145.09 L726.64,1145.44 L727.71,1145.01 L728.80,1144.31 L729.90,1144.36 L731.01,1144.44 L732.13,1144.55 L733.27,1144.40 L734.41,1144.43 L735.56,1145.16 L736.72,1145.47 L737.89,1144.64 L739.06,1145.58 L740.24,1144.99 L741.42,1145.40 L742.61,1145.54 L743.80,1145.58 L744.98,1144.50 L746.17,1144.83 L747.36,1145.21 L748.55,1145.62 L749.73,1144.60 L750.91,1144.85 L752.09,1145.53 L753.26,1144.66 L754.42,1144.99 L755.58,1144.93 L756.73,1145.36 L757.87,1145.66 L759.01,1144.76 L760.13,1145.45 L761.24,1145.45 L762.33,1145.58 L763.42,1145.25 L764.48,1145.70 L765.54,1145.03 L766.58,1145.10 L767.60,1144.88 L768.60,1145.55 L769.58,1145.19 L770.54,1144.95 L771.49,1144.83 L772.41,1145.50 L773.31,1145.36 L774.18,1145.50 L775.03,1145.11 L775.85,1145.24 L776.65,1144.84 L777.42,1145.52 L778.17,1144.70 L778.88,1145.23 L779.56,1145.59 L780.22,1145.49 L780.84,1144.80 L781.43,1144.98 L781.98,1145.71 L782.50,1145.47" fill="none" stroke="#ff0000" stroke-width="3.8" stroke-linejoin="round" stroke-linecap="round" />
<text transform="translate(65.88,721.80) scale(0.8810,1)" font-family='"Liberation Sans", Arial, sans-serif' font-weight="normal" font-size="35.07" fill="#000">10</text>
<text transform="translate(83.03,1217.40) scale(0.8810,1)" font-family='"Liberation Sans", Arial, sans-serif' font-weight="normal" font-size="35.07" fill="#000">0</text>
<text transform="translate(83.50,1118.30) scale(0.8810,1)" font-family='"Liberation Sans", Arial, sans-serif' font-weight="normal" font-size="35.07" fill="#000">2</text>
<text transform="translate(82.88,1019.20) scale(0.8810,1)" font-family='"Liberation Sans", Arial, sans-serif' font-weight="normal" font-size="35.07" fill="#000">4</text>
<text transform="translate(83.19,920.10) scale(0.8810,1)" font-family='"Liberation Sans", Arial, sans-serif' font-weight="normal" font-size="35.07" fill="#000">6</text>
<text transform="translate(83.19,821.00) scale(0.8810,1)" font-family='"Liberation Sans", Arial, sans-serif' font-weight="normal" font-size="35.07" fill="#000">8</text>
<text transform="translate(497.37,1309.10) scale(0.9513,1)" font-family='"Liberation Sans", Arial, sans-serif' font-weight="normal" font-size="34.29" fill="#000">2000</text>
<text transform="translate(118.87,1309.10) scale(0.9513,1)" font-family='"Liberation Sans", Arial, sans-serif' font-weight="normal" font-size="34.29" fill="#000">0</text>
<text transform="translate(308.06,1309.10) scale(0.9513,1)" font-family='"Liberation Sans", Arial, sans-serif' font-weight="normal" font-size="34.29" fill="#000">1000</text>
<text transform="translate(687.23,1309.10) scale(0.9513,1)" font-family='"Liberation Sans", Arial, sans-serif' font-weight="normal" font-size="34.29" fill="#000">3000</text>
<text transform="translate(398.60,1358.60) scale(0.9850,1)" font-family='"Liberation Sans", Arial, sans-serif' font-weight="normal" font-size="35.36" fill="#000">Time(s)</text>
<text transform="translate(38.60,1089.76) rotate(-90) scale(1.0060,1)" font-family='"Liberation Sans", Arial, sans-serif' font-weight="normal" font-size="33.52" fill="#000">j(mA/cm</text>
<text transform="translate(22.30,966.87) rotate(-90) scale(0.8830,1)" font-family='"Liberation Sans", Arial, sans-serif' font-weight="normal" font-size="24.14" fill="#000">2</text>
<text transform="translate(38.50,953.25) rotate(-90) scale(0.8468,1)" font-family='"Liberation Sans", Arial, sans-serif' font-weight="normal" font-size="34.76" fill="#000">)</text>
<text transform="translate(729.08,765.20) scale(0.9710,1)" font-family='"Liberation Sans", Arial, sans-serif' font-weight="normal" font-size="41.67" fill="#000">c</text>
<text transform="translate(751.43,764.43) scale(0.7289,1)" font-family='"Liberation Sans", Arial, sans-serif' font-weight="normal" font-size="45.56" fill="#000">)</text>
<line x1="953.00" y1="1243.50" x2="965.00" y2="1243.50" stroke="#262626" stroke-width="2.8" stroke-linecap="butt" />
<line x1="959.00" y1="1212.56" x2="965.00" y2="1212.56" stroke="#262626" stroke-width="2.8" stroke-linecap="butt" />
<line x1="953.00" y1="1181.62" x2="965.00" y2="1181.62" stroke="#262626" stroke-width="2.8" stroke-linecap="butt" />
<line x1="959.00" y1="1150.69" x2="965.00" y2="1150.69" stroke="#262626" stroke-width="2.8" stroke-linecap="butt" />
<line x1="953.00" y1="1119.75" x2="965.00" y2="1119.75" stroke="#262626" stroke-width="2.8" stroke-linecap="butt" />
<line x1="959.00" y1="1088.81" x2="965.00" y2="1088.81" stroke="#262626" stroke-width="2.8" stroke-linecap="butt" />
<line x1="953.00" y1="1057.88" x2="965.00" y2="1057.88" stroke="#262626" stroke-width="2.8" stroke-linecap="butt" />
<line x1="959.00" y1="1026.94" x2="965.00" y2="1026.94" stroke="#262626" stroke-width="2.8" stroke-linecap="butt" />
<line x1="953.00" y1="996.00" x2="965.00" y2="996.00" stroke="#262626" stroke-width="2.8" stroke-linecap="butt" />
<line x1="959.00" y1="965.06" x2="965.00" y2="965.06" stroke="#262626" stroke-width="2.8" stroke-linecap="butt" />
<line x1="953.00" y1="934.12" x2="965.00" y2="934.12" stroke="#262626" stroke-width="2.8" stroke-linecap="butt" />
<line x1="959.00" y1="903.19" x2="965.00" y2="903.19" stroke="#262626" stroke-width="2.8" stroke-linecap="butt" />
<line x1="953.00" y1="872.25" x2="965.00" y2="872.25" stroke="#262626" stroke-width="2.8" stroke-linecap="butt" />
<line x1="959.00" y1="841.31" x2="965.00" y2="841.31" stroke="#262626" stroke-width="2.8" stroke-linecap="butt" />
<line x1="953.00" y1="810.38" x2="965.00" y2="810.38" stroke="#262626" stroke-width="2.8" stroke-linecap="butt" />
<line x1="959.00" y1="779.44" x2="965.00" y2="779.44" stroke="#262626" stroke-width="2.8" stroke-linecap="butt" />
<line x1="953.00" y1="748.50" x2="965.00" y2="748.50" stroke="#262626" stroke-width="2.8" stroke-linecap="butt" />
<line x1="959.00" y1="717.56" x2="965.00" y2="717.56" stroke="#262626" stroke-width="2.8" stroke-linecap="butt" />
<line x1="1019.70" y1="1256.00" x2="1019.70" y2="1267.00" stroke="#3a3a3a" stroke-width="2.8" stroke-linecap="butt" />
<line x1="1108.48" y1="1256.00" x2="1108.48" y2="1262.00" stroke="#3a3a3a" stroke-width="2.8" stroke-linecap="butt" />
<line x1="1197.25" y1="1256.00" x2="1197.25" y2="1267.00" stroke="#3a3a3a" stroke-width="2.8" stroke-linecap="butt" />
<line x1="1286.03" y1="1256.00" x2="1286.03" y2="1262.00" stroke="#3a3a3a" stroke-width="2.8" stroke-linecap="butt" />
<line x1="1374.80" y1="1256.00" x2="1374.80" y2="1267.00" stroke="#3a3a3a" stroke-width="2.8" stroke-linecap="butt" />
<line x1="1463.58" y1="1256.00" x2="1463.58" y2="1262.00" stroke="#3a3a3a" stroke-width="2.8" stroke-linecap="butt" />
<line x1="1552.35" y1="1256.00" x2="1552.35" y2="1267.00" stroke="#3a3a3a" stroke-width="2.8" stroke-linecap="butt" />
<line x1="1641.12" y1="1256.00" x2="1641.12" y2="1262.00" stroke="#3a3a3a" stroke-width="2.8" stroke-linecap="butt" />
<line x1="1033.20" y1="711.00" x2="1033.20" y2="717.00" stroke="#3d3d3d" stroke-width="2.6" stroke-linecap="butt" />
<line x1="1101.00" y1="711.00" x2="1101.00" y2="722.00" stroke="#3d3d3d" stroke-width="2.6" stroke-linecap="butt" />
<line x1="1167.90" y1="711.00" x2="1167.90" y2="717.00" stroke="#3d3d3d" stroke-width="2.6" stroke-linecap="butt" />
<line x1="1236.00" y1="711.00" x2="1236.00" y2="722.00" stroke="#3d3d3d" stroke-width="2.6" stroke-linecap="butt" />
<line x1="1303.80" y1="711.00" x2="1303.80" y2="717.00" stroke="#3d3d3d" stroke-width="2.6" stroke-linecap="butt" />
<line x1="1372.00" y1="711.00" x2="1372.00" y2="722.00" stroke="#3d3d3d" stroke-width="2.6" stroke-linecap="butt" />
<line x1="1438.90" y1="711.00" x2="1438.90" y2="717.00" stroke="#3d3d3d" stroke-width="2.6" stroke-linecap="butt" />
<line x1="1506.60" y1="711.00" x2="1506.60" y2="722.00" stroke="#3d3d3d" stroke-width="2.6" stroke-linecap="butt" />
<line x1="1575.60" y1="711.00" x2="1575.60" y2="717.00" stroke="#3d3d3d" stroke-width="2.6" stroke-linecap="butt" />
<line x1="1641.00" y1="765.40" x2="1635.00" y2="765.40" stroke="#3d3d3d" stroke-width="2.6" stroke-linecap="butt" />
<line x1="1641.00" y1="819.60" x2="1630.00" y2="819.60" stroke="#3d3d3d" stroke-width="2.6" stroke-linecap="butt" />
<line x1="1641.00" y1="875.00" x2="1635.00" y2="875.00" stroke="#3d3d3d" stroke-width="2.6" stroke-linecap="butt" />
<line x1="1641.00" y1="928.30" x2="1630.00" y2="928.30" stroke="#3d3d3d" stroke-width="2.6" stroke-linecap="butt" />
<line x1="1641.00" y1="983.30" x2="1635.00" y2="983.30" stroke="#3d3d3d" stroke-width="2.6" stroke-linecap="butt" />
<line x1="1641.00" y1="1037.50" x2="1630.00" y2="1037.50" stroke="#3d3d3d" stroke-width="2.6" stroke-linecap="butt" />
<line x1="1641.00" y1="1092.50" x2="1635.00" y2="1092.50" stroke="#3d3d3d" stroke-width="2.6" stroke-linecap="butt" />
<line x1="1641.00" y1="1146.70" x2="1630.00" y2="1146.70" stroke="#3d3d3d" stroke-width="2.6" stroke-linecap="butt" />
<line x1="1641.00" y1="1200.80" x2="1635.00" y2="1200.80" stroke="#3d3d3d" stroke-width="2.6" stroke-linecap="butt" />
<rect x="965.0" y="711.0" width="676.0" height="545.0" fill="none" stroke="#3d3d3d" stroke-width="3" stroke-linejoin="round"/>
<line x1="965.00" y1="1256.00" x2="1641.00" y2="1256.00" stroke="#161616" stroke-width="3.2" stroke-linecap="butt" />
<line x1="1154.50" y1="914.20" x2="1212.50" y2="914.20" stroke="#3c3c3c" stroke-width="2.5" stroke-linecap="butt" />
<path d="M1212.50,914.20 L1218.30,922.30 L1227.30,908.10 L1232.50,920.10 L1240.90,908.10 L1246.10,920.10 L1254.30,908.10 L1258.90,922.30 L1268.20,908.10 L1274.70,914.20" fill="none" stroke="#111" stroke-width="2.2" stroke-linejoin="round" stroke-linecap="round" stroke-linecap="butt"/>
<line x1="1274.70" y1="914.20" x2="1314.20" y2="914.20" stroke="#3c3c3c" stroke-width="2.5" stroke-linecap="butt" />
<path d="M1314.2,914.2 V865.8 H1382.4 M1391.1,865.8 H1463.6 V956.4 H1419.4 M1358.2,956.4 H1314.2 V914.2 M1463.6,914.2 H1523" fill="none" stroke="#3c3c3c" stroke-width="2.5" stroke-linejoin="round"/>
<path d="M1358.20,956.40 L1363.60,962.70 L1372.70,950.30 L1378.20,962.00 L1386.40,950.30 L1391.50,962.00 L1399.40,950.30 L1404.20,962.70 L1414.20,950.30 L1419.40,956.40" fill="none" stroke="#111" stroke-width="2.2" stroke-linejoin="round" stroke-linecap="round" stroke-linecap="butt"/>
<line x1="1382.40" y1="851.60" x2="1382.40" y2="879.50" stroke="#3c3c3c" stroke-width="2.5" stroke-linecap="butt" />
<line x1="1391.10" y1="851.60" x2="1391.10" y2="879.50" stroke="#3c3c3c" stroke-width="2.5" stroke-linecap="butt" />
<text transform="translate(1371.54,842.40) scale(0.9280,1)" font-family='"Liberation Serif", "Times New Roman", serif' font-weight="bold" font-size="20.76" fill="#000">CPE</text>
<text transform="translate(1228.66,947.60) scale(0.7316,1)" font-family='"Liberation Serif", "Times New Roman", serif' font-weight="bold" font-size="21.98" fill="#000">R</text>
<text x="1240.2" y="950.0" font-family='"Liberation Serif", serif' font-weight="bold" font-size="10">e</text>
<text transform="translate(1369.78,1003.60) scale(0.7470,1)" font-family='"Liberation Serif", "Times New Roman", serif' font-weight="bold" font-size="19.85" fill="#000">R</text>
<text x="1380.8" y="1006.0" font-family='"Liberation Serif", serif' font-weight="bold" font-size="11">CT</text>
<g fill="#000"><circle cx="969.9" cy="1236.7" r="5.0"/><circle cx="971.8" cy="1235.7" r="5.0"/><circle cx="973.6" cy="1234.8" r="5.0"/><circle cx="975.5" cy="1233.8" r="5.0"/><circle cx="977.3" cy="1232.9" r="5.0"/><circle cx="979.2" cy="1231.9" r="5.0"/><circle cx="981.2" cy="1230.9" r="5.0"/><circle cx="983.0" cy="1230.0" r="5.0"/><circle cx="984.9" cy="1229.1" r="5.0"/><circle cx="986.7" cy="1228.2" r="5.0"/><circle cx="988.6" cy="1227.3" r="5.0"/><circle cx="990.6" cy="1226.3" r="5.0"/><circle cx="992.7" cy="1225.4" r="5.0"/><circle cx="994.6" cy="1224.6" r="5.0"/><circle cx="996.7" cy="1223.7" r="5.0"/><circle cx="998.7" cy="1222.8" r="5.0"/><circle cx="1000.6" cy="1222.0" r="5.0"/><circle cx="1002.5" cy="1221.3" r="5.0"/><circle cx="1004.4" cy="1220.5" r="5.0"/><circle cx="1006.3" cy="1219.7" r="5.0"/><circle cx="1008.2" cy="1218.9" r="5.0"/><circle cx="1010.2" cy="1218.2" r="5.0"/><circle cx="1012.1" cy="1217.5" r="5.0"/><circle cx="1014.0" cy="1216.7" r="5.0"/><circle cx="1015.9" cy="1216.0" r="5.0"/><circle cx="1017.8" cy="1215.4" r="5.0"/><circle cx="1019.7" cy="1214.7" r="5.0"/><circle cx="1021.7" cy="1214.1" r="5.0"/><circle cx="1023.6" cy="1213.5" r="5.0"/><circle cx="1025.7" cy="1212.9" r="5.0"/><circle cx="1027.9" cy="1212.4" r="5.0"/><circle cx="1030.1" cy="1211.8" r="5.0"/><circle cx="1032.2" cy="1211.2" r="5.0"/><circle cx="1034.4" cy="1210.7" r="5.0"/><circle cx="1036.6" cy="1210.1" r="5.0"/><circle cx="1038.5" cy="1209.5" r="5.0"/><circle cx="1040.4" cy="1208.9" r="5.0"/><circle cx="1042.3" cy="1208.3" r="5.0"/><circle cx="1044.2" cy="1207.6" r="5.0"/><circle cx="1046.3" cy="1206.7" r="5.0"/><circle cx="1048.3" cy="1205.9" r="5.0"/><circle cx="1050.3" cy="1205.0" r="5.0"/><circle cx="1052.3" cy="1204.1" r="5.0"/><circle cx="1054.4" cy="1203.1" r="5.0"/><circle cx="1056.4" cy="1202.2" r="5.0"/><circle cx="1058.4" cy="1201.2" r="5.0"/><circle cx="1060.2" cy="1200.2" r="5.0"/><circle cx="1061.9" cy="1199.3" r="5.0"/><circle cx="1063.7" cy="1198.3" r="5.0"/><circle cx="1065.5" cy="1197.4" r="5.0"/><circle cx="1067.3" cy="1196.4" r="5.0"/><circle cx="1069.1" cy="1195.4" r="5.0"/><circle cx="1070.9" cy="1194.3" r="5.0"/><circle cx="1072.6" cy="1193.3" r="5.0"/><circle cx="1074.5" cy="1192.2" r="5.0"/><circle cx="1076.4" cy="1191.0" r="5.0"/><circle cx="1078.3" cy="1189.8" r="5.0"/><circle cx="1080.0" cy="1188.7" r="5.0"/><circle cx="1081.7" cy="1187.6" r="5.0"/><circle cx="1083.4" cy="1186.5" r="5.0"/><circle cx="1085.1" cy="1185.3" r="5.0"/><circle cx="1086.8" cy="1184.2" r="5.0"/><circle cx="1088.4" cy="1183.0" r="5.0"/><circle cx="1090.1" cy="1181.9" r="5.0"/><circle cx="1091.8" cy="1180.8" r="5.0"/><circle cx="1093.5" cy="1179.6" r="5.0"/><circle cx="1095.2" cy="1178.6" r="5.0"/><circle cx="1097.1" cy="1177.4" r="5.0"/><circle cx="1099.0" cy="1176.2" r="5.0"/><circle cx="1100.8" cy="1175.2" r="5.0"/><circle cx="1102.5" cy="1174.1" r="5.0"/><circle cx="1104.3" cy="1173.1" r="5.0"/><circle cx="1106.1" cy="1172.0" r="5.0"/><circle cx="1107.9" cy="1171.0" r="5.0"/><circle cx="1109.7" cy="1170.0" r="5.0"/><circle cx="1111.5" cy="1169.0" r="5.0"/><circle cx="1113.2" cy="1168.0" r="5.0"/><circle cx="1115.0" cy="1167.0" r="5.0"/><circle cx="1116.8" cy="1166.1" r="5.0"/><circle cx="1118.8" cy="1165.0" r="5.0"/><circle cx="1120.7" cy="1164.0" r="5.0"/><circle cx="1122.6" cy="1163.0" r="5.0"/><circle cx="1124.5" cy="1162.1" r="5.0"/><circle cx="1126.5" cy="1161.2" r="5.0"/><circle cx="1128.4" cy="1160.3" r="5.0"/><circle cx="1130.4" cy="1159.4" r="5.0"/><circle cx="1132.3" cy="1158.6" r="5.0"/><circle cx="1134.1" cy="1157.9" r="5.0"/><circle cx="1136.2" cy="1157.1" r="5.0"/><circle cx="1138.3" cy="1156.3" r="5.0"/><circle cx="1140.3" cy="1155.6" r="5.0"/><circle cx="1142.4" cy="1154.8" r="5.0"/><circle cx="1144.5" cy="1154.0" r="5.0"/><circle cx="1146.5" cy="1153.2" r="5.0"/><circle cx="1148.6" cy="1152.4" r="5.0"/><circle cx="1150.5" cy="1151.6" r="5.0"/><circle cx="1152.5" cy="1150.7" r="5.0"/><circle cx="1154.6" cy="1149.8" r="5.0"/><circle cx="1156.4" cy="1149.0" r="5.0"/><circle cx="1158.2" cy="1148.1" r="5.0"/><circle cx="1160.0" cy="1147.2" r="5.0"/><circle cx="1161.9" cy="1146.4" r="5.0"/><circle cx="1163.7" cy="1145.5" r="5.0"/><circle cx="1165.5" cy="1144.7" r="5.0"/><circle cx="1167.3" cy="1143.8" r="5.0"/><circle cx="1169.2" cy="1143.0" r="5.0"/><circle cx="1171.2" cy="1142.1" r="5.0"/><circle cx="1173.3" cy="1141.3" r="5.0"/><circle cx="1175.2" cy="1140.5" r="5.0"/><circle cx="1177.1" cy="1139.8" r="5.0"/><circle cx="1179.0" cy="1139.0" r="5.0"/><circle cx="1180.9" cy="1138.3" r="5.0"/><circle cx="1182.8" cy="1137.6" r="5.0"/><circle cx="1184.7" cy="1136.9" r="5.0"/><circle cx="1186.6" cy="1136.2" r="5.0"/><circle cx="1188.5" cy="1135.6" r="5.0"/><circle cx="1190.4" cy="1134.9" r="5.0"/><circle cx="1192.3" cy="1134.3" r="5.0"/><circle cx="1194.5" cy="1133.6" r="5.0"/><circle cx="1196.6" cy="1133.0" r="5.0"/><circle cx="1198.7" cy="1132.3" r="5.0"/><circle cx="1200.7" cy="1131.8" r="5.0"/><circle cx="1202.8" cy="1131.2" r="5.0"/><circle cx="1204.8" cy="1130.7" r="5.0"/><circle cx="1206.9" cy="1130.2" r="5.0"/><circle cx="1209.0" cy="1129.8" r="5.0"/><circle cx="1211.1" cy="1129.3" r="5.0"/><circle cx="1213.1" cy="1128.9" r="5.0"/><circle cx="1215.1" cy="1128.5" r="5.0"/><circle cx="1217.3" cy="1128.0" r="5.0"/><circle cx="1219.3" cy="1127.6" r="5.0"/><circle cx="1221.5" cy="1127.2" r="5.0"/><circle cx="1223.7" cy="1126.8" r="5.0"/><circle cx="1225.8" cy="1126.5" r="5.0"/><circle cx="1228.0" cy="1126.2" r="5.0"/><circle cx="1230.1" cy="1125.9" r="5.0"/><circle cx="1232.2" cy="1125.7" r="5.0"/><circle cx="1234.2" cy="1125.5" r="5.0"/><circle cx="1236.4" cy="1125.3" r="5.0"/><circle cx="1238.4" cy="1125.1" r="5.0"/><circle cx="1247.4" cy="1124.1" r="5.0"/><circle cx="1256.4" cy="1123.5" r="5.0"/><circle cx="1265.4" cy="1121.7" r="5.0"/><circle cx="1274.4" cy="1120.1" r="5.0"/><circle cx="1283.5" cy="1119.0" r="5.0"/><circle cx="1292.4" cy="1117.8" r="5.0"/><circle cx="1300.2" cy="1117.0" r="5.0"/><circle cx="1306.3" cy="1116.6" r="5.0"/><circle cx="1312.4" cy="1116.3" r="5.0"/><circle cx="1318.4" cy="1116.0" r="5.0"/><circle cx="1324.5" cy="1115.7" r="5.0"/><circle cx="1330.5" cy="1115.4" r="5.0"/><circle cx="1336.7" cy="1115.1" r="5.0"/><circle cx="1342.9" cy="1115.1" r="5.0"/><circle cx="1349.0" cy="1115.5" r="5.0"/><circle cx="1355.1" cy="1116.0" r="5.0"/><circle cx="1361.2" cy="1116.6" r="5.0"/><circle cx="1367.3" cy="1117.3" r="5.0"/><circle cx="1373.3" cy="1118.0" r="5.0"/><circle cx="1379.4" cy="1118.6" r="5.0"/><circle cx="1385.5" cy="1119.1" r="5.0"/><circle cx="1391.7" cy="1119.7" r="5.0"/><circle cx="1397.7" cy="1120.3" r="5.0"/><circle cx="1403.9" cy="1121.1" r="5.0"/><circle cx="1410.0" cy="1122.1" r="5.0"/><circle cx="1415.9" cy="1123.2" r="5.0"/><circle cx="1420.1" cy="1124.0" r="5.0"/><circle cx="1422.1" cy="1124.4" r="5.0"/><circle cx="1424.1" cy="1124.7" r="5.0"/><circle cx="1426.0" cy="1125.1" r="5.0"/><circle cx="1428.0" cy="1125.5" r="5.0"/><circle cx="1430.0" cy="1125.9" r="5.0"/><circle cx="1431.9" cy="1126.3" r="5.0"/><circle cx="1433.9" cy="1126.7" r="5.0"/><circle cx="1435.9" cy="1127.1" r="5.0"/><circle cx="1437.9" cy="1127.5" r="5.0"/><circle cx="1439.8" cy="1127.9" r="5.0"/><circle cx="1441.8" cy="1128.3" r="5.8"/><circle cx="1443.8" cy="1128.7" r="5.8"/><circle cx="1445.7" cy="1129.1" r="5.8"/><circle cx="1447.7" cy="1129.5" r="5.8"/><circle cx="1449.7" cy="1129.9" r="5.8"/><circle cx="1451.6" cy="1130.3" r="5.8"/><circle cx="1453.9" cy="1130.7" r="5.8"/><circle cx="1455.8" cy="1131.0" r="5.8"/><circle cx="1458.1" cy="1131.4" r="5.8"/><circle cx="1460.3" cy="1131.8" r="5.8"/><circle cx="1462.5" cy="1132.1" r="5.8"/><circle cx="1464.6" cy="1132.5" r="5.8"/><circle cx="1466.8" cy="1132.8" r="5.8"/><circle cx="1469.0" cy="1133.1" r="5.8"/><circle cx="1471.3" cy="1133.4" r="5.8"/><circle cx="1473.2" cy="1133.7" r="5.8"/><circle cx="1475.2" cy="1133.9" r="5.8"/><circle cx="1477.3" cy="1134.2" r="5.8"/><circle cx="1479.3" cy="1134.4" r="5.8"/><circle cx="1481.3" cy="1134.6" r="5.8"/><circle cx="1483.3" cy="1134.7" r="5.8"/><circle cx="1485.4" cy="1134.9" r="5.8"/><circle cx="1487.5" cy="1135.1" r="5.8"/><circle cx="1489.6" cy="1135.2" r="5.8"/><circle cx="1491.8" cy="1135.4" r="5.8"/><circle cx="1493.9" cy="1135.5" r="5.8"/><circle cx="1496.1" cy="1135.6" r="5.8"/><circle cx="1498.2" cy="1135.7" r="5.8"/><circle cx="1500.3" cy="1135.8" r="5.8"/><circle cx="1502.3" cy="1135.9" r="5.8"/><circle cx="1504.5" cy="1136.0" r="5.8"/><circle cx="1506.5" cy="1136.0" r="5.8"/><circle cx="1508.6" cy="1136.0" r="5.8"/><circle cx="1510.7" cy="1136.0" r="5.8"/><circle cx="1512.8" cy="1135.9" r="5.8"/><circle cx="1515.0" cy="1135.7" r="5.8"/><circle cx="1517.0" cy="1135.5" r="5.8"/><circle cx="1519.1" cy="1135.2" r="5.8"/><circle cx="1521.1" cy="1134.9" r="5.8"/><circle cx="1523.2" cy="1134.4" r="5.8"/><circle cx="1525.3" cy="1133.9" r="5.8"/><circle cx="1527.2" cy="1133.4" r="5.8"/><circle cx="1529.3" cy="1132.8" r="5.8"/><circle cx="1531.3" cy="1132.1" r="5.8"/><circle cx="1533.3" cy="1131.3" r="5.8"/><circle cx="1535.1" cy="1130.4" r="5.8"/><circle cx="1537.0" cy="1129.4" r="5.8"/><circle cx="1538.7" cy="1128.4" r="5.8"/><circle cx="1542.2" cy="1126.0" r="5.8"/><circle cx="1545.5" cy="1123.7" r="5.8"/><circle cx="1548.8" cy="1121.1" r="5.8"/><circle cx="1551.8" cy="1118.5" r="5.8"/><circle cx="1554.9" cy="1115.7" r="5.8"/><circle cx="1557.8" cy="1112.8" r="5.8"/><circle cx="1560.6" cy="1109.8" r="5.8"/><circle cx="1563.3" cy="1106.8" r="5.8"/><circle cx="1566.0" cy="1103.7" r="5.8"/><circle cx="1568.7" cy="1100.4" r="5.8"/><circle cx="1571.2" cy="1097.2" r="5.8"/><circle cx="1573.7" cy="1093.8" r="5.8"/><circle cx="1576.0" cy="1090.5" r="5.8"/><circle cx="1578.3" cy="1087.2" r="5.8"/><circle cx="1580.7" cy="1083.7" r="5.8"/><circle cx="1583.0" cy="1080.4" r="5.8"/></g>
<path d="M971.20,1242.00 C974.57,1239.78 983.55,1233.62 991.40,1228.70 C999.25,1223.78 1009.33,1217.45 1018.30,1212.50 C1027.27,1207.55 1036.25,1203.03 1045.20,1199.00 C1054.15,1194.97 1063.03,1191.87 1072.00,1188.30 C1080.97,1184.73 1090.00,1180.98 1099.00,1177.60 C1108.00,1174.22 1117.50,1170.88 1126.00,1168.00 C1134.50,1165.12 1137.92,1164.00 1150.00,1160.30 C1162.08,1156.60 1182.33,1149.63 1198.50,1145.80 C1214.67,1141.97 1230.83,1139.63 1247.00,1137.30 C1263.17,1134.97 1282.63,1132.97 1295.50,1131.80 C1308.37,1130.63 1310.72,1130.98 1324.20,1130.30 C1337.68,1129.62 1359.02,1128.27 1376.40,1127.70 C1393.78,1127.13 1411.13,1127.03 1428.50,1126.90 C1445.87,1126.77 1463.23,1126.95 1480.60,1126.90 C1497.97,1126.85 1515.32,1127.03 1532.70,1126.60 C1550.08,1126.17 1567.08,1125.68 1584.90,1124.30 C1602.72,1122.92 1630.48,1119.30 1639.60,1118.30" fill="none" stroke="#ff0000" stroke-width="3.6" stroke-linejoin="round" stroke-linecap="round" />
<line x1="982.20" y1="738.90" x2="1041.20" y2="738.90" stroke="#222" stroke-width="1.6" stroke-linecap="butt" />
<circle cx="1012.5" cy="738.7" r="5.8" fill="#000"/>
<line x1="983.50" y1="776.60" x2="1041.50" y2="776.60" stroke="#ff0000" stroke-width="4.6" stroke-linecap="round" />
<text transform="translate(1049.80,748.50) scale(0.9287,1)" font-family='"Liberation Sans", Arial, sans-serif' font-weight="normal" font-size="32.41" fill="#000">a</text>
<text transform="translate(1049.47,785.00) scale(0.9927,1)" font-family='"Liberation Sans", Arial, sans-serif' font-weight="normal" font-size="31.88" fill="#000">Fitting</text>
<text transform="translate(895.08,757.00) scale(0.9395,1)" font-family='"Liberation Sans", Arial, sans-serif' font-weight="normal" font-size="33.19" fill="#000">400</text>
<text transform="translate(895.08,819.27) scale(0.9395,1)" font-family='"Liberation Sans", Arial, sans-serif' font-weight="normal" font-size="33.19" fill="#000">350</text>
<text transform="translate(895.08,881.15) scale(0.9395,1)" font-family='"Liberation Sans", Arial, sans-serif' font-weight="normal" font-size="33.19" fill="#000">300</text>
<text transform="translate(895.08,943.02) scale(0.9395,1)" font-family='"Liberation Sans", Arial, sans-serif' font-weight="normal" font-size="33.19" fill="#000">250</text>
<text transform="translate(895.08,1004.90) scale(0.9395,1)" font-family='"Liberation Sans", Arial, sans-serif' font-weight="normal" font-size="33.19" fill="#000">200</text>
<text transform="translate(895.08,1066.78) scale(0.9395,1)" font-family='"Liberation Sans", Arial, sans-serif' font-weight="normal" font-size="33.19" fill="#000">150</text>
<text transform="translate(895.08,1128.65) scale(0.9395,1)" font-family='"Liberation Sans", Arial, sans-serif' font-weight="normal" font-size="33.19" fill="#000">100</text>
<text transform="translate(912.38,1190.53) scale(0.9395,1)" font-family='"Liberation Sans", Arial, sans-serif' font-weight="normal" font-size="33.19" fill="#000">50</text>
<text transform="translate(929.69,1252.40) scale(0.9395,1)" font-family='"Liberation Sans", Arial, sans-serif' font-weight="normal" font-size="33.19" fill="#000">0</text>
<text transform="translate(993.18,1298.70) scale(0.9342,1)" font-family='"Liberation Sans", Arial, sans-serif' font-weight="normal" font-size="33.04" fill="#000">100</text>
<text transform="translate(1170.07,1298.70) scale(0.9342,1)" font-family='"Liberation Sans", Arial, sans-serif' font-weight="normal" font-size="33.04" fill="#000">200</text>
<text transform="translate(1349.23,1298.70) scale(0.9342,1)" font-family='"Liberation Sans", Arial, sans-serif' font-weight="normal" font-size="33.04" fill="#000">300</text>
<text transform="translate(1525.93,1298.70) scale(0.9342,1)" font-family='"Liberation Sans", Arial, sans-serif' font-weight="normal" font-size="33.04" fill="#000">400</text>
<text transform="translate(1245.69,1352.30) scale(0.9725,1)" font-family='"Liberation Sans", Arial, sans-serif' font-weight="normal" font-size="34.78" fill="#000">Z'(ohm)</text>
<text transform="translate(869.20,1047.32) rotate(-90) scale(0.9632,1)" font-family='"Liberation Sans", Arial, sans-serif' font-weight="normal" font-size="35.36" fill="#000">Z&quot;(ohm)</text>
<text transform="translate(1583.22,765.00) scale(1.0328,1)" font-family='"Liberation Sans", Arial, sans-serif' font-weight="normal" font-size="43.03" fill="#000">d</text>
<text transform="translate(1609.82,764.24) scale(0.7878,1)" font-family='"Liberation Sans", Arial, sans-serif' font-weight="normal" font-size="45.03" fill="#000">)</text>
</svg></body></html>
